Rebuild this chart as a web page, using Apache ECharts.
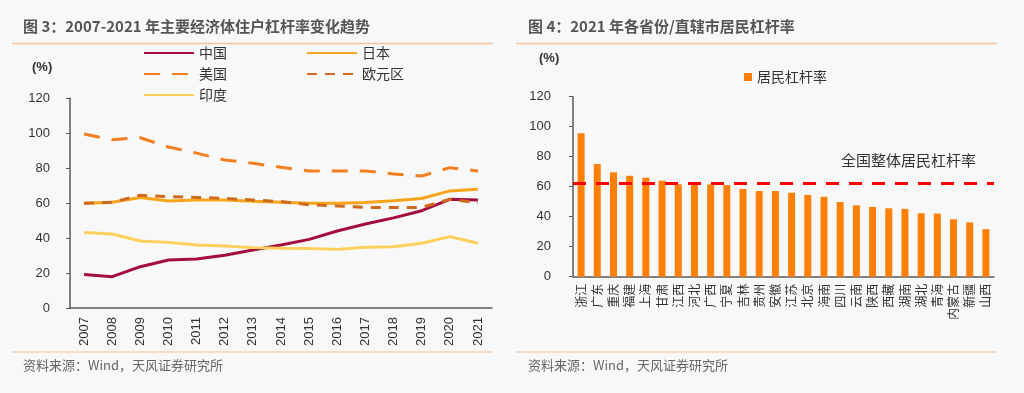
<!DOCTYPE html>
<html>
<head>
<meta charset="utf-8">
<script src="https://cdn.jsdelivr.net/npm/echarts@6/dist/echarts.min.js"></script>
<style>
html,body{margin:0;padding:0;background:#f8f8f8;}
#c{width:1024px;height:393px;}
</style>
</head>
<body>
<div id="c"></div>
<script>
// ---- Left chart data ----
const years = ['2007','2008','2009','2010','2011','2012','2013','2014','2015','2016','2017','2018','2019','2020','2021'];
const china = [19.2, 17.9, 23.6, 27.4, 28.0, 30.1, 33.1, 36.0, 39.2, 44.0, 48.0, 51.5, 55.6, 62.1, 61.7];
const japan = [59.8, 60.4, 63.2, 61.1, 61.7, 61.7, 61.0, 60.4, 59.8, 59.8, 60.3, 61.3, 62.6, 66.9, 67.8];
const usa = [99.4, 96.2, 97.3, 92.0, 88.5, 84.6, 82.7, 80.4, 78.3, 78.3, 78.3, 76.6, 75.4, 80.2, 78.3];
const euro = [59.8, 60.4, 64.4, 63.6, 63.2, 62.6, 61.7, 60.8, 59.0, 58.3, 57.5, 57.5, 57.5, 62.1, 60.2];
const india = [43.2, 42.3, 38.3, 37.5, 36.0, 35.4, 34.5, 34.1, 34.0, 33.5, 34.7, 35.0, 37.0, 40.8, 37.0];
const yTicksLeft = [0, 120, 20];

// ---- Right chart data ----
const provinces = ['浙江','广东','重庆','福建','上海','甘肃','江西','河北','广西','宁夏','吉林','贵州','安徽','江苏','北京','海南','四川','云南','陕西','西藏','湖南','湖北','青海','内蒙古','新疆','山西'];
const rates = [95.6, 75.1, 69.6, 67.3, 66.0, 64.0, 61.6, 61.4, 61.5, 61.0, 58.5, 57.1, 57.1, 56.0, 54.5, 53.3, 49.8, 47.6, 46.5, 45.6, 45.2, 42.3, 42.1, 38.3, 36.2, 31.7];
const nationalRate = 62.2;

// ---- Texts ----
const titleLeft = '图 3：2007-2021 年主要经济体住户杠杆率变化趋势';
const titleRight = '图 4：2021 年各省份/直辖市居民杠杆率';
const sourceText = '资料来源：Wind，天风证券研究所';
const nationalLabel = '全国整体居民杠杆率';

const CJK = '"Noto Sans CJK SC", "Liberation Sans", sans-serif';
const NUM = '"Liberation Sans", Arial, sans-serif';
const axisColor = '#595959';
const textColor = '#333';

const chart = echarts.init(document.getElementById('c'), null, {renderer: 'canvas'});

function legendAt(name, left, top) {
  return {
    data: [name], left: left, top: top, padding: 0, itemWidth: 50, itemHeight: 14,
    itemStyle: {opacity: 0},
    textStyle: {fontFamily: CJK, fontSize: 14, color: '#333'}, itemGap: 8
  };
}

const option = {
  backgroundColor: '#f8f8f8',
  animation: false,
  graphic: [
    {type: 'text', left: 23, top: 19, style: {text: titleLeft, font: 'bold 15px ' + CJK, fill: '#555'}},
    {type: 'text', left: 528, top: 19, style: {text: titleRight, font: 'bold 15px ' + CJK, fill: '#555'}},
    {type: 'line', shape: {x1: 12, y1: 43.5, x2: 493, y2: 43.5}, style: {stroke: '#f5c49a', lineWidth: 1.5}},
    {type: 'line', shape: {x1: 516, y1: 43.5, x2: 997, y2: 43.5}, style: {stroke: '#f5c49a', lineWidth: 1.5}},
    {type: 'line', shape: {x1: 12, y1: 352, x2: 493, y2: 352}, style: {stroke: '#f5c49a', lineWidth: 1.2}},
    {type: 'line', shape: {x1: 516, y1: 352, x2: 997, y2: 352}, style: {stroke: '#f5c49a', lineWidth: 1.2}},
    {type: 'text', left: 23, top: 359, style: {text: sourceText, font: '13px ' + CJK, fill: '#666'}},
    {type: 'text', left: 528, top: 359, style: {text: sourceText, font: '13px ' + CJK, fill: '#666'}},
    {type: 'text', left: 32, top: 61, style: {text: '(%)', font: 'bold 13px ' + NUM, fill: '#333'}},
    {type: 'text', left: 539, top: 52, style: {text: '(%)', font: 'bold 13px ' + NUM, fill: '#333'}}
  ],
  legend: [
    legendAt('中国', 143, 46),
    legendAt('日本', 306, 46),
    legendAt('美国', 143, 67),
    legendAt('欧元区', 306, 67),
    legendAt('印度', 143, 88),
    {data: ['居民杠杆率'], left: 744, top: 70, padding: 0, icon: 'rect', itemWidth: 8, itemHeight: 8,
     textStyle: {fontFamily: CJK, fontSize: 14, color: '#333'}}
  ],
  grid: [
    {left: 70, top: 98, width: 422, height: 210},
    {left: 573, top: 96.7, width: 421, height: 180}
  ],
  xAxis: [
    {type: 'category', gridIndex: 0, data: years, boundaryGap: true,
     axisLine: {lineStyle: {color: axisColor, width: 1.5}},
     axisTick: {lineStyle: {color: axisColor}, length: 4},
     axisLabel: {rotate: 90, fontFamily: NUM, fontSize: 13, color: textColor, margin: 9}},
    {type: 'category', gridIndex: 1, data: provinces, boundaryGap: true,
     axisLine: {lineStyle: {color: axisColor, width: 1.5}},
     axisTick: {lineStyle: {color: axisColor}, length: 4},
     axisLabel: {rotate: 90, fontFamily: CJK, fontSize: 12, color: textColor, margin: 7, interval: 0}}
  ],
  yAxis: [
    {type: 'value', gridIndex: 0, min: yTicksLeft[0], max: yTicksLeft[1], interval: yTicksLeft[2],
     axisLine: {show: true, lineStyle: {color: axisColor, width: 1.5}},
     axisTick: {show: true, lineStyle: {color: axisColor}, length: 4},
     splitLine: {show: false},
     axisLabel: {fontFamily: NUM, fontSize: 13, color: textColor, margin: 20}},
    {type: 'value', gridIndex: 1, min: yTicksLeft[0], max: yTicksLeft[1], interval: yTicksLeft[2],
     axisLine: {show: true, lineStyle: {color: axisColor, width: 1.5}},
     axisTick: {show: true, lineStyle: {color: axisColor}, length: 4},
     splitLine: {show: false},
     axisLabel: {fontFamily: NUM, fontSize: 13, color: textColor, margin: 22}}
  ],
  series: [
    {name: '中国', type: 'line', xAxisIndex: 0, yAxisIndex: 0, data: china, symbol: 'none',
     itemStyle: {color: '#a50d3f'}, lineStyle: {color: '#a50d3f', width: 3}},
    {name: '日本', type: 'line', xAxisIndex: 0, yAxisIndex: 0, data: japan, symbol: 'none',
     itemStyle: {color: '#f9a51b'}, lineStyle: {color: '#f9a51b', width: 3}},
    {name: '美国', type: 'line', xAxisIndex: 0, yAxisIndex: 0, data: usa, symbol: 'none',
     itemStyle: {color: '#f47f20'}, lineStyle: {color: '#f47f20', width: 3, type: [16, 12]}},
    {name: '欧元区', type: 'line', xAxisIndex: 0, yAxisIndex: 0, data: euro, symbol: 'none',
     itemStyle: {color: '#cf6a1f'}, lineStyle: {color: '#cf6a1f', width: 3, type: [10, 8]}},
    {name: '印度', type: 'line', xAxisIndex: 0, yAxisIndex: 0, data: india, symbol: 'none',
     itemStyle: {color: '#fdd05c'}, lineStyle: {color: '#fdd05c', width: 3}},
    {name: '居民杠杆率', type: 'bar', xAxisIndex: 1, yAxisIndex: 1, data: rates, barWidth: 7,
     itemStyle: {color: '#ff8008'},
     markLine: {
       silent: true, symbol: 'none',
       lineStyle: {color: '#ff0000', width: 3, type: [13, 10]},
       label: {show: true, position: 'insideEndTop', formatter: nationalLabel, distance: [18, 16],
               fontFamily: CJK, fontSize: 15, color: '#333'},
       data: [{yAxis: nationalRate}]
     }}
  ]
};
chart.setOption(option);
</script>
</body>
</html>
